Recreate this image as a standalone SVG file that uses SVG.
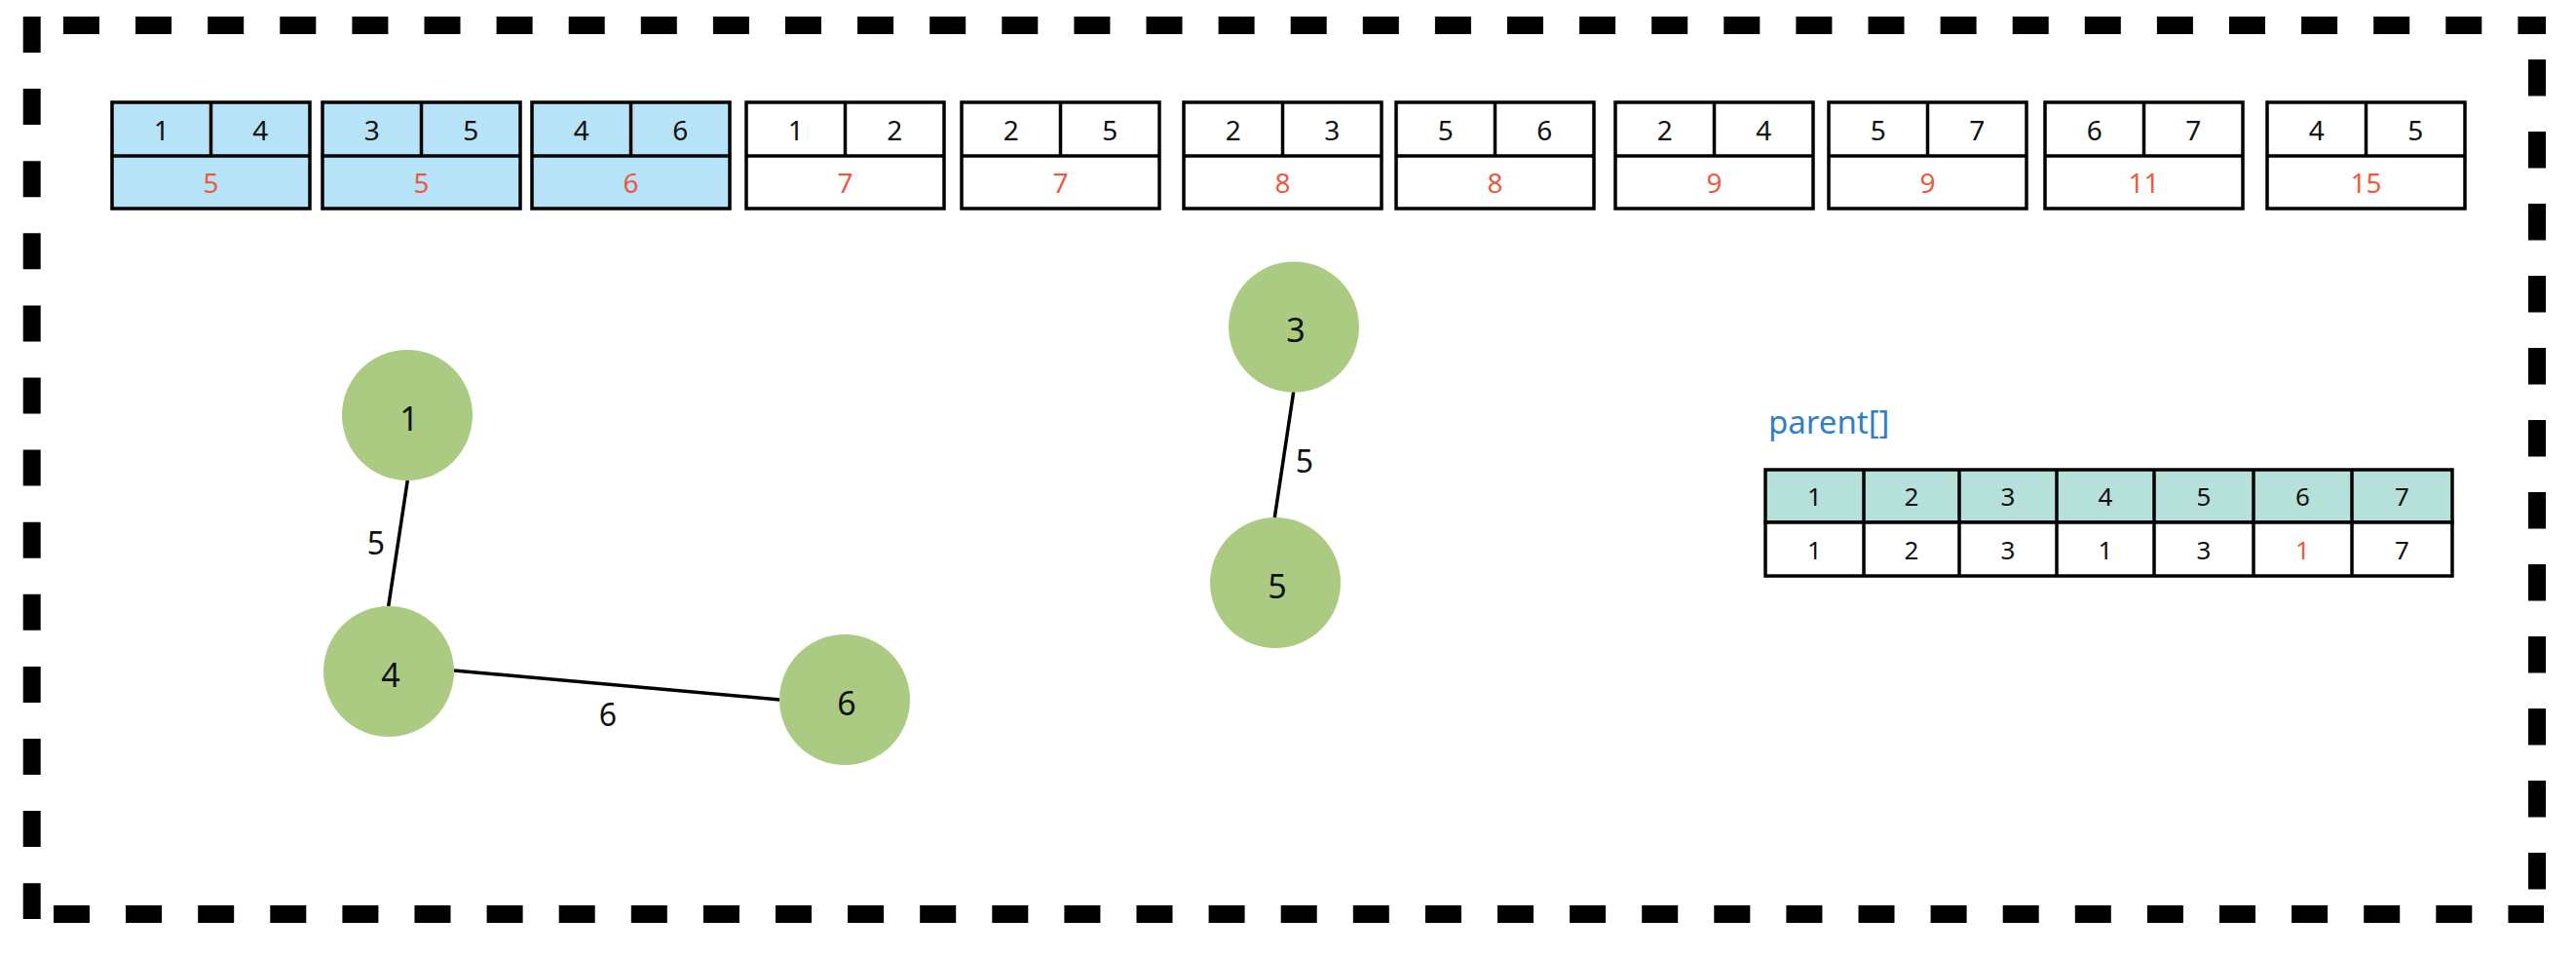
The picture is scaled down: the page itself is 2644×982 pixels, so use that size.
<svg xmlns="http://www.w3.org/2000/svg" width="2644" height="982" viewBox="0 0 2644 982">
<defs>
<style>
.border{stroke:#000;stroke-width:18;fill:none;stroke-dasharray:37 37.1}
.cell{stroke:#000;stroke-width:3.5;fill:#fff}
.blue{fill:#b7e3f9}
.teal{fill:#b6e0da}
.num{font-family:"Noto Sans",sans-serif;font-size:28px;fill:#111;text-anchor:middle;dominant-baseline:central}
.tnum{font-family:"Noto Sans",sans-serif;font-size:26px;fill:#111;text-anchor:middle;dominant-baseline:central}
text.red{fill:#ee5a3c}
.node{fill:#abcb83}
.nlabel{font-family:"Noto Sans",sans-serif;font-size:34px;fill:#111;text-anchor:middle;dominant-baseline:central}
.edge{stroke:#000;stroke-width:3.5;fill:none}
.elabel{font-family:"Noto Sans",sans-serif;font-size:32px;fill:#111;text-anchor:middle;dominant-baseline:central}
</style>
</defs>
<rect width="2644" height="982" fill="#fff"/>
<g id="frame">
<line class="border" x1="65" y1="26" x2="2613" y2="26"/>
<line class="border" x1="2604" y1="61" x2="2604" y2="913" style="stroke-dasharray:37.5 36.5"/>
<line class="border" x1="55" y1="938" x2="2611" y2="938"/>
<line class="border" x1="32.7" y1="17" x2="32.7" y2="943"/>
</g>
<g id="edge-list">
<g id="e14"><rect class="cell blue" x="115" y="105" width="203" height="109"/><line class="cell" x1="115" y1="160" x2="318" y2="160"/><line class="cell" x1="216.5" y1="105" x2="216.5" y2="160"/><text class="num" x="165.75" y="132.5">1</text><text class="num" x="267.25" y="132.5">4</text><text class="num red" x="216.5" y="187">5</text></g>
<g id="e35"><rect class="cell blue" x="331" y="105" width="203" height="109"/><line class="cell" x1="331" y1="160" x2="534" y2="160"/><line class="cell" x1="432.5" y1="105" x2="432.5" y2="160"/><text class="num" x="381.75" y="132.5">3</text><text class="num" x="483.25" y="132.5">5</text><text class="num red" x="432.5" y="187">5</text></g>
<g id="e46"><rect class="cell blue" x="546" y="105" width="203" height="109"/><line class="cell" x1="546" y1="160" x2="749" y2="160"/><line class="cell" x1="647.5" y1="105" x2="647.5" y2="160"/><text class="num" x="596.75" y="132.5">4</text><text class="num" x="698.25" y="132.5">6</text><text class="num red" x="647.5" y="187">6</text></g>
<g id="e12"><rect class="cell" x="766" y="105" width="203" height="109"/><line class="cell" x1="766" y1="160" x2="969" y2="160"/><line class="cell" x1="867.5" y1="105" x2="867.5" y2="160"/><text class="num" x="816.75" y="132.5">1</text><text class="num" x="918.25" y="132.5">2</text><text class="num red" x="867.5" y="187">7</text></g>
<g id="e25"><rect class="cell" x="987" y="105" width="203" height="109"/><line class="cell" x1="987" y1="160" x2="1190" y2="160"/><line class="cell" x1="1088.5" y1="105" x2="1088.5" y2="160"/><text class="num" x="1037.75" y="132.5">2</text><text class="num" x="1139.25" y="132.5">5</text><text class="num red" x="1088.5" y="187">7</text></g>
<g id="e23"><rect class="cell" x="1215" y="105" width="203" height="109"/><line class="cell" x1="1215" y1="160" x2="1418" y2="160"/><line class="cell" x1="1316.5" y1="105" x2="1316.5" y2="160"/><text class="num" x="1265.75" y="132.5">2</text><text class="num" x="1367.25" y="132.5">3</text><text class="num red" x="1316.5" y="187">8</text></g>
<g id="e56"><rect class="cell" x="1433" y="105" width="203" height="109"/><line class="cell" x1="1433" y1="160" x2="1636" y2="160"/><line class="cell" x1="1534.5" y1="105" x2="1534.5" y2="160"/><text class="num" x="1483.75" y="132.5">5</text><text class="num" x="1585.25" y="132.5">6</text><text class="num red" x="1534.5" y="187">8</text></g>
<g id="e24"><rect class="cell" x="1658" y="105" width="203" height="109"/><line class="cell" x1="1658" y1="160" x2="1861" y2="160"/><line class="cell" x1="1759.5" y1="105" x2="1759.5" y2="160"/><text class="num" x="1708.75" y="132.5">2</text><text class="num" x="1810.25" y="132.5">4</text><text class="num red" x="1759.5" y="187">9</text></g>
<g id="e57"><rect class="cell" x="1877" y="105" width="203" height="109"/><line class="cell" x1="1877" y1="160" x2="2080" y2="160"/><line class="cell" x1="1978.5" y1="105" x2="1978.5" y2="160"/><text class="num" x="1927.75" y="132.5">5</text><text class="num" x="2029.25" y="132.5">7</text><text class="num red" x="1978.5" y="187">9</text></g>
<g id="e67"><rect class="cell" x="2099" y="105" width="203" height="109"/><line class="cell" x1="2099" y1="160" x2="2302" y2="160"/><line class="cell" x1="2200.5" y1="105" x2="2200.5" y2="160"/><text class="num" x="2149.75" y="132.5">6</text><text class="num" x="2251.25" y="132.5">7</text><text class="num red" x="2200.5" y="187">11</text></g>
<g id="e45"><rect class="cell" x="2327" y="105" width="203" height="109"/><line class="cell" x1="2327" y1="160" x2="2530" y2="160"/><line class="cell" x1="2428.5" y1="105" x2="2428.5" y2="160"/><text class="num" x="2377.75" y="132.5">4</text><text class="num" x="2479.25" y="132.5">5</text><text class="num red" x="2428.5" y="187">15</text></g>
</g>
<g id="connectors">
<line class="edge" x1="418.3" y1="493" x2="398.7" y2="622"/>
<line class="edge" x1="466" y1="688" x2="800.4" y2="718"/>
<line class="edge" x1="1327.7" y1="402" x2="1308.3" y2="531"/>
<text class="elabel" x="386" y="556">5</text>
<text class="elabel" x="624" y="732">6</text>
<text class="elabel" x="1339" y="472">5</text>
</g>
<g id="node1"><circle class="node" cx="418" cy="426" r="67"/><text class="nlabel" x="420" y="429">1</text></g>
<g id="node4"><circle class="node" cx="399" cy="689" r="67"/><text class="nlabel" x="401" y="692">4</text></g>
<g id="node6"><circle class="node" cx="867" cy="718" r="67"/><text class="nlabel" x="869" y="721">6</text></g>
<g id="node3"><circle class="node" cx="1328" cy="335.5" r="67"/><text class="nlabel" x="1330" y="338">3</text></g>
<g id="node5"><circle class="node" cx="1309" cy="598" r="67"/><text class="nlabel" x="1311" y="601">5</text></g>
<g id="parent">
<text x="1815" y="445" font-family="'Noto Sans',sans-serif" font-size="33" fill="#2f7fc8">parent[]</text>
<rect class="cell teal" x="1812" y="482" width="705" height="54"/>
<rect class="cell" x="1812" y="536" width="705" height="55"/>
<g class="cell">
<line x1="1913" y1="482" x2="1913" y2="591"/>
<line x1="2011" y1="482" x2="2011" y2="591"/>
<line x1="2111" y1="482" x2="2111" y2="591"/>
<line x1="2211" y1="482" x2="2211" y2="591"/>
<line x1="2313" y1="482" x2="2313" y2="591"/>
<line x1="2414" y1="482" x2="2414" y2="591"/>
</g>
<text class="tnum" x="1862.5" y="509">1</text><text class="tnum" x="1962" y="509">2</text><text class="tnum" x="2061" y="509">3</text><text class="tnum" x="2161" y="509">4</text><text class="tnum" x="2262" y="509">5</text><text class="tnum" x="2363.5" y="509">6</text><text class="tnum" x="2465.5" y="509">7</text>
<text class="tnum" x="1862.5" y="563.5">1</text><text class="tnum" x="1962" y="563.5">2</text><text class="tnum" x="2061" y="563.5">3</text><text class="tnum" x="2161" y="563.5">1</text><text class="tnum" x="2262" y="563.5">3</text><text class="tnum red" x="2363.5" y="563.5">1</text><text class="tnum" x="2465.5" y="563.5">7</text>
</g>
</svg>
